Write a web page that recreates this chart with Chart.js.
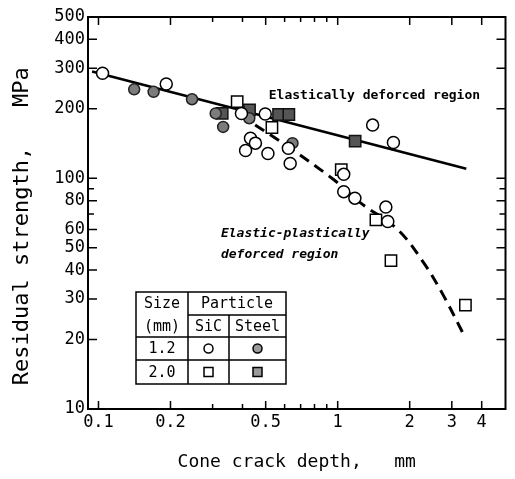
<!DOCTYPE html>
<html>
<head>
<meta charset="utf-8">
<script src="https://cdn.jsdelivr.net/npm/chart.js@4.4.1/dist/chart.umd.min.js"></script>
<style>
  html, body { margin: 0; padding: 0; background: #fff; }
  #wrap { width: 515px; height: 479px; }
</style>
</head>
<body>
<div id="wrap"><canvas id="chart"></canvas></div>
<script>
// values: cone crack depth (mm) vs residual strength (MPa)
var sic12X = [0.104, 0.192, 0.396, 0.498, 0.432, 0.453, 0.412, 0.511, 0.622, 0.633, 1.40, 1.71, 1.06, 1.06, 1.18, 1.59, 1.62];
var sic12Y = [285, 256, 191, 190, 149, 142, 132, 128, 135, 116, 170, 143, 104, 87.5, 82, 75, 65];

var steel12X = [0.141, 0.170, 0.246, 0.309, 0.332, 0.427, 0.647];
var steel12Y = [243, 237, 220, 191, 167, 182, 142];

var sic20X = [0.380, 0.531, 1.035, 1.445, 1.67, 3.42];
var sic20Y = [215, 166, 109, 66, 44, 28.2];

var steel20X = [0.329, 0.428, 0.566, 0.625, 1.183];
var steel20Y = [191, 198, 189, 189, 145];

// fitted lines
var elasticX = [0.094, 3.45];
var elasticY = [290, 110];
var plasticX = [0.39, 0.62, 0.97, 1.25, 1.78, 2.29, 2.77, 3.38];
var plasticY = [188, 137, 98, 78, 60, 43, 31, 20.8];

var xTickVals = [0.1, 0.2, 0.3, 0.4, 0.5, 0.6, 0.7, 0.8, 0.9, 1, 2, 3, 4];
var xTickLabels = [0.1, 0.2, 0.5, 1, 2, 3, 4];
var yTickVals = [10, 20, 30, 40, 50, 60, 70, 80, 90, 100, 200, 300, 400, 500];
var yTickLabels = [10, 20, 30, 40, 50, 60, 80, 100, 200, 300, 400, 500];

var notes = [
    { text: 'Elastically deforced region', x: 0.515, y: 229, italic: false },
    { text: 'Elastic-plastically', x: 0.325, y: 57.4, italic: true },
    { text: 'deforced region', x: 0.325, y: 46.5, italic: true }
];

function pts(xs, ys) {
    return xs.map(function (x, i) { return { x: x, y: ys[i] }; });
}

var MONO = "'DejaVu Sans Mono', monospace";

var framePlugin = {
    id: 'frame',
    afterDatasetsDraw: function (chart) {
        var ctx = chart.ctx;
        var a = chart.chartArea;
        var xs = chart.scales.x, ys = chart.scales.y;
        ctx.save();
        ctx.strokeStyle = '#000';
        ctx.lineWidth = 2;
        ctx.strokeRect(a.left, a.top, a.right - a.left, a.bottom - a.top);

        // inward ticks on all four sides
        ctx.lineWidth = 1.5;
        ctx.beginPath();
        xTickVals.forEach(function (v) {
            var px = xs.getPixelForValue(v);
            var len = xTickLabels.indexOf(v) >= 0 ? 8 : 5;
            ctx.moveTo(px, a.bottom); ctx.lineTo(px, a.bottom - len);
            ctx.moveTo(px, a.top); ctx.lineTo(px, a.top + len);
        });
        yTickVals.forEach(function (v) {
            var py = ys.getPixelForValue(v);
            var len = yTickLabels.indexOf(v) >= 0 ? 9 : 6;
            ctx.moveTo(a.left, py); ctx.lineTo(a.left + len, py);
            ctx.moveTo(a.right, py); ctx.lineTo(a.right - len, py);
        });
        ctx.stroke();

        // region labels
        ctx.fillStyle = '#000';
        ctx.textBaseline = 'middle';
        ctx.textAlign = 'left';
        notes.forEach(function (n) {
            ctx.font = (n.italic ? 'italic ' : '') + 'bold 13px ' + MONO;
            ctx.fillText(n.text, xs.getPixelForValue(n.x), ys.getPixelForValue(n.y));
        });

        drawKey(ctx);
        ctx.restore();
    }
};

function drawKey(ctx) {
    var L = 136, R = 286, c1 = 188, c2 = 229;
    var r0 = 292, r1 = 315, r2 = 337, r3 = 360, r4 = 384;
    ctx.fillStyle = '#fff';
    ctx.fillRect(L, r0, R - L, r4 - r0);
    ctx.strokeStyle = '#000';
    ctx.lineWidth = 1.5;
    ctx.strokeRect(L, r0, R - L, r4 - r0);
    ctx.beginPath();
    ctx.moveTo(c1, r0); ctx.lineTo(c1, r4);
    ctx.moveTo(c2, r1); ctx.lineTo(c2, r4);
    ctx.moveTo(c1, r1); ctx.lineTo(R, r1);
    ctx.moveTo(L, r2); ctx.lineTo(R, r2);
    ctx.moveTo(L, r3); ctx.lineTo(R, r3);
    ctx.stroke();

    ctx.fillStyle = '#000';
    ctx.font = '15px ' + MONO;
    ctx.textAlign = 'center';
    ctx.textBaseline = 'middle';
    ctx.fillText('Size', (L + c1) / 2, (r0 + r1) / 2 + 1);
    ctx.fillText('(mm)', (L + c1) / 2, (r1 + r2) / 2 + 1);
    ctx.fillText('Particle', (c1 + R) / 2, (r0 + r1) / 2 + 1);
    ctx.fillText('SiC', (c1 + c2) / 2, (r1 + r2) / 2 + 1);
    ctx.fillText('Steel', (c2 + R) / 2, (r1 + r2) / 2 + 1);
    ctx.fillText('1.2', (L + c1) / 2, (r2 + r3) / 2 + 1);
    ctx.fillText('2.0', (L + c1) / 2, (r3 + r4) / 2 + 1);

    var mx1 = (c1 + c2) / 2, mx2 = (c2 + R) / 2;
    var my1 = (r2 + r3) / 2, my2 = (r3 + r4) / 2;
    ctx.lineWidth = 1.5;
    ctx.beginPath(); ctx.arc(mx1, my1, 4.5, 0, Math.PI * 2);
    ctx.fillStyle = '#fff'; ctx.fill(); ctx.stroke();
    ctx.beginPath(); ctx.arc(mx2, my1, 4.5, 0, Math.PI * 2);
    ctx.fillStyle = '#9a9a9a'; ctx.fill(); ctx.stroke();
    ctx.fillStyle = '#fff';
    ctx.fillRect(mx1 - 4.5, my2 - 4.5, 9, 9); ctx.strokeRect(mx1 - 4.5, my2 - 4.5, 9, 9);
    ctx.fillStyle = '#9a9a9a';
    ctx.fillRect(mx2 - 4.5, my2 - 4.5, 9, 9); ctx.strokeRect(mx2 - 4.5, my2 - 4.5, 9, 9);
}

var ctx = document.getElementById('chart').getContext('2d');
var chart = new Chart(ctx, {
    type: 'scatter',
    data: {
        datasets: [{
            label: 'SiC 1.2 mm',
            data: pts(sic12X, sic12Y),
            pointStyle: 'circle',
            pointRadius: 6,
            backgroundColor: '#fff',
            borderColor: '#000',
            borderWidth: 1.5,
            order: 1
        }, {
            label: 'Steel 1.2 mm',
            data: pts(steel12X, steel12Y),
            pointStyle: 'circle',
            pointRadius: 5.5,
            backgroundColor: '#7c7c7c',
            borderColor: '#222',
            borderWidth: 1.5,
            order: 1
        }, {
            label: 'SiC 2.0 mm',
            data: pts(sic20X, sic20Y),
            pointStyle: 'rect',
            pointRadius: 8,
            backgroundColor: '#fff',
            borderColor: '#000',
            borderWidth: 1.5,
            order: 1
        }, {
            label: 'Steel 2.0 mm',
            data: pts(steel20X, steel20Y),
            pointStyle: 'rect',
            pointRadius: 8,
            backgroundColor: '#555',
            borderColor: '#111',
            borderWidth: 1.5,
            order: 1
        }, {
            type: 'line',
            label: 'Elastically deforced region',
            data: pts(elasticX, elasticY),
            borderColor: '#000',
            borderWidth: 2.5,
            pointRadius: 0,
            fill: false,
            order: 5
        }, {
            type: 'line',
            label: 'Elastic-plastically deforced region',
            data: pts(plasticX, plasticY),
            borderColor: '#000',
            borderWidth: 3,
            borderDash: [11, 7],
            pointRadius: 0,
            tension: 0.35,
            fill: false,
            order: 5
        }]
    },
    options: {
        responsive: true,
        maintainAspectRatio: false,
        animation: false,
        layout: { padding: { top: 17, right: 6, left: 0, bottom: 0 } },
        plugins: {
            legend: { display: false },
            tooltip: { enabled: false }
        },
        scales: {
            x: {
                type: 'logarithmic',
                min: 0.0904,
                max: 5.03,
                grid: { display: false, drawTicks: false },
                border: { display: false },
                afterBuildTicks: function (scale) {
                    scale.ticks = xTickVals.map(function (v) { return { value: v }; });
                },
                afterFit: function (scale) { scale.height = 70; },
                ticks: {
                    autoSkip: false,
                    maxRotation: 0,
                    padding: 3,
                    color: '#000',
                    font: { family: MONO, size: 17 },
                    callback: function (v) {
                        return xTickLabels.indexOf(v) >= 0 ? String(v) : '';
                    }
                },
                title: {
                    display: true,
                    text: 'Cone crack depth,   mm',
                    color: '#000',
                    font: { family: MONO, size: 18 },
                    padding: { top: 4, bottom: 6 }
                }
            },
            y: {
                type: 'logarithmic',
                min: 10,
                max: 500,
                grid: { display: false, drawTicks: false },
                border: { display: false },
                afterBuildTicks: function (scale) {
                    scale.ticks = yTickVals.map(function (v) { return { value: v }; });
                },
                afterFit: function (scale) { scale.width = 88; },
                ticks: {
                    autoSkip: false,
                    padding: 3,
                    color: '#000',
                    font: { family: MONO, size: 17 },
                    callback: function (v) {
                        return yTickLabels.indexOf(v) >= 0 ? String(v) : '';
                    }
                },
                title: {
                    display: true,
                    text: 'Residual strength,   MPa  ',
                    color: '#000',
                    font: { family: MONO, size: 22 },
                    padding: { top: 9, bottom: 0 }
                }
            }
        }
    },
    plugins: [framePlugin]
});
</script>
</body>
</html>
